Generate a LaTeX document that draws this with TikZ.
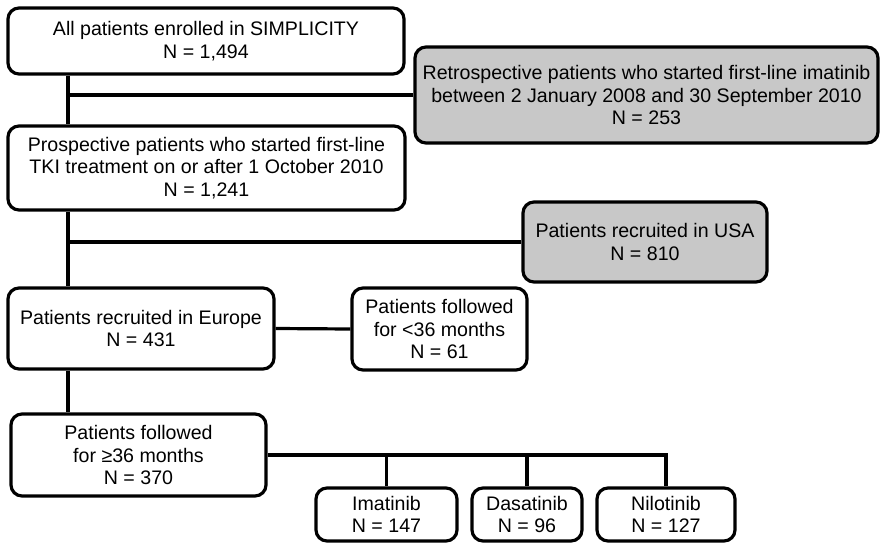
\documentclass[tikz,border=0pt]{standalone}
\usepackage{fontspec}
\setmainfont{Liberation Sans}
\usepackage{tikz}
\usetikzlibrary{positioning, calc}
\definecolor{BoxGray}{RGB}{200,200,200}

\begin{document}
\begin{tikzpicture}[
  x=1pt, y=-1pt,
  box/.style={rectangle, rounded corners=11pt, align=center,
              font=\fontsize{19.6}{22.5}\selectfont, draw=black,
              line width=3.2pt, fill=white, inner sep=2pt},
  gbox/.style={box, fill=BoxGray},
  lnk/.style={line width=3.2pt, draw=black}
]
\useasboundingbox (0,0) rectangle (880,543);

\node[box, minimum width=396pt, minimum height=66pt] (all) at (206,41)
      {All patients enrolled in SIMPLICITY\\ N = 1,494};

\node[gbox, minimum width=463pt, minimum height=96pt] (retro) at (646.5,95)
      {Retrospective patients who started first-line imatinib\\
       between 2 January 2008 and 30 September 2010\\ N = 253};

\node[box, minimum width=397pt, minimum height=84pt] (prosp) at (206.5,168)
      {Prospective patients who started first-line\\
       TKI treatment on or after 1 October 2010\\ N = 1,241};

\node[gbox, minimum width=244pt, minimum height=80pt] (usa) at (645,242)
      {Patients recruited in USA\\ N = 810};

\node[box, minimum width=266pt, minimum height=81pt] (europe) at (141,328.5)
      {Patients recruited in Europe\\ N = 431};

\node[box, minimum width=175pt, minimum height=82pt] (short) at (439.5,329)
      {Patients followed\\ for <36 months\\ N = 61};

\node[box, minimum width=255pt, minimum height=82pt] (long) at (138.5,455)
      {Patients followed\\ for ≥36 months\\ N = 370};

\node[box, minimum width=141pt, minimum height=53pt] (ima) at (386.5,514.5)
      {Imatinib\\ N = 147};
\node[box, minimum width=110pt, minimum height=53pt] (dasa) at (527,514.5)
      {Dasatinib\\ N = 96};
\node[box, minimum width=138pt, minimum height=53pt] (nilo) at (666,514.5)
      {Nilotinib\\ N = 127};

% main trunk on the left
\coordinate (trunk) at (68,0);
\draw[lnk] (all.south -| trunk) -- (prosp.north -| trunk);
\draw[lnk] (prosp.south -| trunk) -- (europe.north -| trunk);
\draw[lnk] (europe.south -| trunk) -- (long.north -| trunk);

% side branches
\draw[lnk] (retro.west) -- (retro.west -| trunk);
\draw[lnk] (usa.west) -- (usa.west -| trunk);
\draw[lnk] (europe.east) -- (short.west);

% treatment split
\draw[lnk] (long.east) -| (nilo.north);
\draw[lnk] (ima.north) -- (ima.north |- long.east);
\draw[lnk] (dasa.north) -- (dasa.north |- long.east);

\end{tikzpicture}
\end{document}
